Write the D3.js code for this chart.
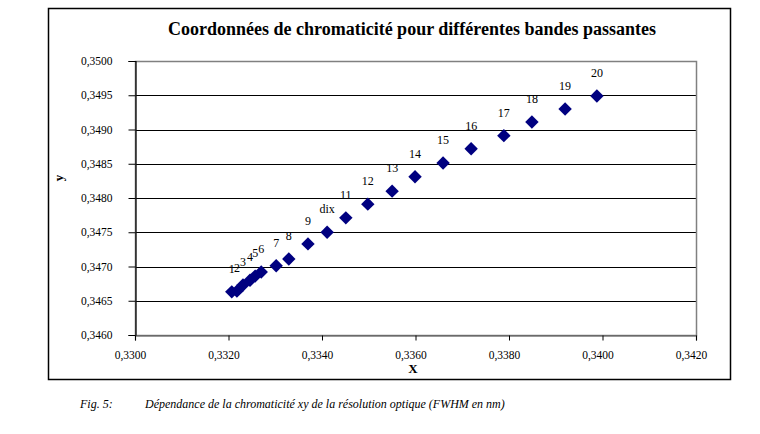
<!DOCTYPE html>
<html>
<head>
<meta charset="utf-8">
<script src="https://cdn.jsdelivr.net/npm/d3@7"></script>
<style>
  body { margin: 0; background: #fff; }
  svg { font-family: "Liberation Serif", "Times New Roman", serif; }
</style>
</head>
<body>
<svg id="chart" width="760" height="434"></svg>
<script>
// chromaticity coordinates, one point per bandwidth
const xValues = [0.33207, 0.33218, 0.33231, 0.33246, 0.33257, 0.33270, 0.33302, 0.33329, 0.33370, 0.33411,
                 0.33451, 0.33498, 0.33550, 0.33599, 0.33659, 0.33719, 0.33789, 0.33849, 0.33920, 0.33988];
const yValues = [0.34663, 0.34664, 0.34673, 0.34680, 0.34686, 0.34692, 0.34701, 0.34711, 0.34733, 0.34750,
                 0.34771, 0.34791, 0.34810, 0.34831, 0.34851, 0.34872, 0.34891, 0.34911, 0.34930, 0.34949];
const pointLabels = ["1", "2", "3", "4", "5", "6", "7", "8", "9", "dix",
                     "11", "12", "13", "14", "15", "16", "17", "18", "19", "20"];
const xTicks = [0.3300, 0.3320, 0.3340, 0.3360, 0.3380, 0.3400, 0.3420];
const yTicks = [0.3460, 0.3465, 0.3470, 0.3475, 0.3480, 0.3485, 0.3490, 0.3495, 0.3500];

const svg = d3.select("#chart");
const fmt = d3.formatLocale({ decimal: ",", thousands: " ", grouping: [3], currency: ["", "€"] }).format(".4f");

const plot = { left: 135, top: 61, right: 696, bottom: 335 };

const x = d3.scaleLinear().domain([0.3300, 0.3420]).range([plot.left, plot.right]);
const y = d3.scaleLinear().domain([0.3460, 0.3500]).range([plot.bottom, plot.top]);

// outer chart frame
svg.append("rect")
  .attr("x", 48.5).attr("y", 8.5)
  .attr("width", 682).attr("height", 371)
  .attr("fill", "none").attr("stroke", "#000").attr("stroke-width", 1.5);

// title
svg.append("text")
  .attr("x", 412).attr("y", 35)
  .attr("text-anchor", "middle")
  .attr("font-size", 18).attr("font-weight", "bold")
  .text("Coordonnées de chromaticité pour différentes bandes passantes");

// gridlines (black), skip top and bottom
svg.append("g")
  .selectAll("line")
  .data(yTicks.slice(1, -1))
  .join("line")
  .attr("x1", plot.left).attr("x2", plot.right)
  .attr("y1", d => Math.round(y(d)) + 0.5).attr("y2", d => Math.round(y(d)) + 0.5)
  .attr("stroke", "#000").attr("stroke-width", 1);

// plot area border (grey)
svg.append("rect")
  .attr("x", plot.left + 0.5).attr("y", plot.top + 0.5)
  .attr("width", plot.right - plot.left).attr("height", plot.bottom - plot.top)
  .attr("fill", "none").attr("stroke", "#808080").attr("stroke-width", 1.5);

// y axis
const yAxis = svg.append("g")
  .attr("transform", `translate(${plot.left + 0.5},0)`)
  .call(d3.axisLeft(y).tickValues(yTicks).tickFormat(fmt).tickSize(7).tickPadding(16));
yAxis.select(".domain").attr("stroke", "#000").attr("stroke-width", 1.2);
yAxis.selectAll(".tick line").attr("stroke", "#000");
yAxis.selectAll("text").attr("font-size", 11.5).attr("font-family", "Liberation Serif").attr("fill", "#000");

// x axis
const xAxis = svg.append("g")
  .attr("transform", `translate(0,${plot.bottom + 0.5})`)
  .call(d3.axisBottom(x).tickValues(xTicks).tickFormat(fmt).tickSize(5).tickPadding(10));
xAxis.select(".domain").attr("stroke", "#555").attr("stroke-width", 1.2);
xAxis.selectAll(".tick line").attr("stroke", "#000");
xAxis.selectAll("text").attr("font-size", 11.5).attr("font-family", "Liberation Serif").attr("fill", "#000").attr("dx", -5);

// axis titles
svg.append("text")
  .attr("x", 413).attr("y", 373)
  .attr("text-anchor", "middle")
  .attr("font-size", 13).attr("font-weight", "bold")
  .text("X");

svg.append("text")
  .attr("transform", "translate(63,178) rotate(-90)")
  .attr("text-anchor", "middle")
  .attr("font-size", 13).attr("font-weight", "bold")
  .text("y");

// points
const points = xValues.map((v, i) => ({ x: v, y: yValues[i], label: pointLabels[i] }));
const diamond = d3.symbol().type(d3.symbolSquare).size(90);

svg.append("g")
  .selectAll("path")
  .data(points)
  .join("path")
  .attr("d", diamond)
  .attr("transform", d => `translate(${x(d.x)},${y(d.y)}) rotate(45)`)
  .attr("fill", "#000080");

// data labels above each point
svg.append("g")
  .selectAll("text")
  .data(points)
  .join("text")
  .attr("x", d => x(d.x))
  .attr("y", d => y(d.y) - 19)
  .attr("text-anchor", "middle")
  .attr("font-size", 12)
  .text(d => d.label);

// figure caption
const cap = svg.append("g").attr("font-size", 12).attr("font-style", "italic");
cap.append("text").attr("x", 80).attr("y", 408).text("Fig. 5:");
cap.append("text").attr("x", 145).attr("y", 408).text("Dépendance de la chromaticité xy de la résolution optique (FWHM en nm)");
</script>
</body>
</html>
